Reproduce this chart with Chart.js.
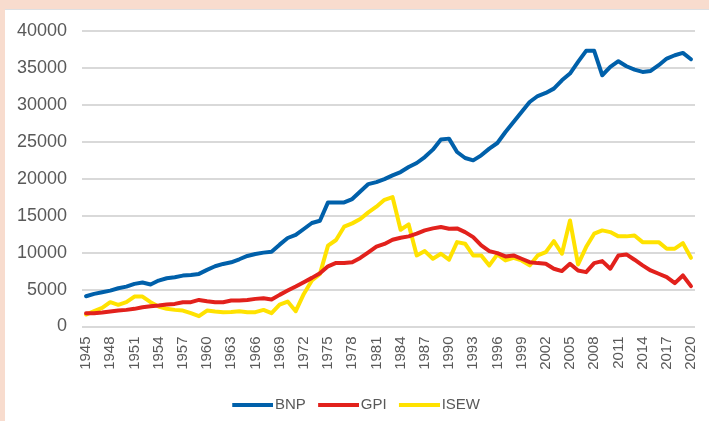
<!DOCTYPE html>
<html>
<head>
<meta charset="utf-8">
<script src="https://cdn.jsdelivr.net/npm/chart.js@4"></script>
<style>
  html, body { margin: 0; padding: 0; }
  body { width: 709px; height: 421px; background: #F8DCCE; position: relative; overflow: hidden; }
  #card { position: absolute; left: 5px; top: 9px; width: 704px; height: 412px; background: #ffffff; border-top: 1px solid #dde0e3; box-sizing: border-box; overflow: hidden; }
  #wrap { position: absolute; left: 0; top: 0; width: 704px; height: 412px; }
</style>
</head>
<body>
<div id="card"><div id="wrap"><canvas id="c"></canvas></div></div>
<script>
const years = [];
for (let y = 1945; y <= 2020; y++) years.push(String(y));

const seriesNames = ["BNP", "GPI", "ISEW"];

const bnp = [4100, 4420, 4640, 4860, 5180, 5400, 5770, 5950, 5680, 6220,
  6530, 6670, 6890, 6980, 7120, 7660, 8150, 8470, 8690, 9100,
  9550, 9820, 10000, 10130, 11080, 11980, 12390, 13200, 14010, 14320,
  16800, 16800, 16800, 17250, 18280, 19280, 19550, 19950, 20460, 20910,
  21590, 22130, 22940, 23940, 25300, 25430, 23620, 22810, 22490, 23170,
  24080, 24840, 26330, 27680, 29040, 30390, 31200, 31610, 32200, 33330,
  34240, 35820, 37310, 37310, 34010, 35140, 35910, 35230, 34780, 34460,
  34600, 35370, 36270, 36720, 37030, 36180];

const gpi = [1800, 1800, 1890, 2030, 2160, 2250, 2390, 2610, 2750, 2840,
  2970, 3060, 3290, 3290, 3600, 3420, 3290, 3290, 3510, 3520,
  3600, 3740, 3830, 3650, 4280, 4860, 5410, 6000, 6580, 7210,
  8150, 8600, 8600, 8690, 9280, 10040, 10810, 11180, 11740, 12020,
  12200, 12560, 13010, 13280, 13460, 13240, 13280, 12780, 12100, 10980,
  10210, 9930, 9490, 9620, 9170, 8710, 8580, 8490, 7820, 7500,
  8490, 7590, 7360, 8580, 8850, 7820, 9620, 9760, 9040, 8270,
  7590, 7140, 6680, 5870, 6910, 5460];

const isew = [1620, 2070, 2520, 3290, 2930, 3290, 4050, 4050, 3290, 2700,
  2390, 2250, 2160, 1800, 1390, 2160, 2030, 1940, 1950, 2070,
  1940, 1940, 2250, 1800, 2970, 3380, 2070, 4410, 6220, 7120,
  10950, 11710, 13510, 13960, 14550, 15450, 16220, 17150, 17520, 13100,
  13820, 9620, 10210, 9170, 9850, 9040, 11420, 11200, 9620, 9620,
  8270, 9760, 8940, 9300, 8940, 8270, 9620, 10070, 11560, 9850,
  14360, 8400, 10750, 12560, 13010, 12780, 12200, 12200, 12330, 11420,
  11420, 11420, 10530, 10530, 11290, 9300];

const yTicks = [0, 5000, 10000, 15000, 20000, 25000, 30000, 35000, 40000];

const colors = ["#0060AA", "#E2211C", "#FFE200"];
const values = [bnp, gpi, isew];

const textColor = "#595959";
const fontFamily = "'Liberation Sans', Arial, sans-serif";

function legendLine(color) {
  const cv = document.createElement("canvas");
  cv.width = 47; cv.height = 4;
  const g = cv.getContext("2d");
  g.fillStyle = color;
  g.fillRect(6, 0, 41, 4);
  return cv;
}

new Chart(document.getElementById("c"), {
  type: "line",
  data: {
    labels: years,
    datasets: seriesNames.map((n, i) => ({
      label: n,
      data: values[i],
      borderColor: colors[i],
      backgroundColor: colors[i],
      borderWidth: 4,
      pointRadius: 0,
      pointHoverRadius: 0,
      pointStyle: legendLine(colors[i]),
      tension: 0,
      fill: false,
      borderJoinStyle: "round",
      borderCapStyle: "round"
    }))
  },
  options: {
    responsive: true,
    maintainAspectRatio: false,
    animation: false,
    layout: { padding: { left: 12, right: 14, top: 21, bottom: 0 } },
    plugins: {
      tooltip: { enabled: false },
      legend: {
        position: "bottom",
        labels: {
          usePointStyle: true,
          pointStyleWidth: 35.5,
          boxHeight: 15,
          padding: 12,
          color: textColor,
          font: { family: fontFamily, size: 15 }
        }
      }
    },
    scales: {
      x: {
        offset: true,
        grid: { display: false, drawTicks: false },
        border: { display: false },
        afterFit: (s) => { s.paddingLeft = 0; s.paddingRight = 0; s.height = 58.5; },
        ticks: {
          autoSkip: false,
          maxRotation: 90,
          minRotation: 90,
          padding: 10,
          color: textColor,
          font: { family: fontFamily, size: 15 },
          callback: function (v, i) {
            return (i % 3 === 0) ? years[i] : "";
          }
        }
      },
      y: {
        min: 0,
        max: 40000,
        afterBuildTicks: (axis) => { axis.ticks = yTicks.map(v => ({ value: v })); },
        afterFit: (s) => { s.paddingTop = 0; s.paddingBottom = 0; s.paddingLeft = 0; s.paddingRight = 0; s.width = 65; },
        grid: { color: "#D9D9D9", lineWidth: 2, drawTicks: false },
        border: { display: false },
        ticks: {
          padding: 15,
          color: textColor,
          font: { family: fontFamily, size: 18 },
          callback: (v) => String(v)
        }
      }
    }
  }
});
</script>
</body>
</html>
